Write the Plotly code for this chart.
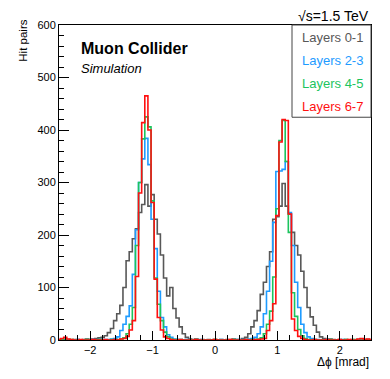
import numpy as np
import plotly.graph_objects as go

# 101 bins of 0.05 mrad, centred on -2.50 ... 2.50
bin_lo, bin_hi, n_bins = -2.525, 2.525, 101

layers_01 = [0, 1, 0, 1, 0, 1, 1, 0, 1, 2,
             1, 2, 3, 4, 5, 8, 14, 22, 37, 50,
             66, 100, 151, 168, 193, 212, 243, 258, 296, 255,
             277, 230, 202, 162, 118, 84, 100, 60, 42, 25,
             12, 5, 2, 1, 2, 0, 1, 0, 1, 0,
             1, 0, 1, 0, 1, 1, 2, 1, 1, 3,
             5, 12, 25, 37, 56, 87, 110, 140, 168, 230,
             235, 255, 298, 255, 240, 205, 180, 162, 131, 100,
             62, 44, 28, 15, 6, 3, 1, 2, 1, 0,
             1, 0, 1, 0, 1, 0, 0, 1, 0, 1,
             0]
layers_23 = [0, 0, 1, 0, 0, 0, 1, 0, 0, 0,
             0, 1, 0, 1, 0, 1, 1, 2, 3, 6,
             18, 30, 45, 65, 125, 210, 300, 345, 384, 334,
             230, 174, 93, 43, 25, 10, 5, 2, 1, 1,
             0, 1, 0, 0, 0, 1, 0, 0, 0, 0,
             0, 0, 1, 0, 0, 0, 0, 1, 0, 1,
             1, 2, 3, 5, 12, 25, 50, 93, 150, 224,
             321, 322, 325, 340, 243, 180, 110, 62, 30, 14,
             6, 3, 1, 1, 0, 0, 1, 0, 0, 0,
             0, 1, 0, 0, 0, 0, 1, 0, 0, 0,
             0]
layers_45 = [0, 1, 0, 0, 1, 0, 0, 0, 0, 1,
             0, 0, 0, 1, 0, 0, 0, 1, 0, 1,
             2, 4, 12, 30, 62, 180, 300, 383, 425, 406,
             265, 118, 68, 37, 15, 6, 2, 1, 0, 1,
             0, 0, 0, 0, 1, 0, 0, 0, 0, 0,
             1, 0, 0, 0, 0, 0, 1, 0, 0, 0,
             1, 0, 1, 1, 2, 4, 12, 30, 55, 120,
             250, 380, 418, 340, 205, 90, 45, 20, 8, 3,
             1, 0, 1, 0, 0, 0, 0, 1, 0, 0,
             0, 0, 1, 0, 0, 1, 0, 0, 0, 1,
             0]
layers_67 = [1, 3, 5, 2, 1, 0, 0, 1, 0, 0,
             0, 1, 0, 0, 0, 1, 0, 0, 1, 0,
             2, 3, 7, 19, 37, 121, 280, 414, 465, 400,
             262, 116, 43, 19, 6, 3, 1, 0, 0, 1,
             0, 0, 0, 0, 1, 0, 0, 0, 0, 0,
             1, 0, 0, 0, 0, 1, 0, 0, 0, 0,
             1, 0, 0, 1, 1, 2, 3, 18, 37, 69,
             237, 377, 420, 418, 240, 40, 18, 7, 3, 1,
             0, 0, 1, 0, 0, 0, 1, 0, 0, 0,
             1, 0, 0, 1, 0, 0, 2, 3, 1, 2,
             1]

series = [
    ("Layers 0-1", layers_01, "#585858"),
    ("Layers 2-3", layers_23, "#1e9bff"),
    ("Layers 4-5", layers_45, "#1cc45e"),
    ("Layers 6-7", layers_67, "#ff1010"),
]

edges = np.linspace(bin_lo, bin_hi, n_bins + 1)
FONT = "Liberation Sans, Arial, sans-serif"

fig = go.Figure()
for name, vals, color in series:
    fig.add_trace(go.Scatter(
        x=edges,
        y=list(vals) + [vals[-1]],
        mode="lines",
        line=dict(color=color, width=1.6, shape="hv"),
        name=name,
        showlegend=False,
        hoverinfo="skip",
    ))

axis_style = dict(
    showline=True, linecolor="black", linewidth=1, mirror=True,
    showgrid=False, zeroline=False, ticks="inside", tickcolor="black",
    tickfont=dict(family=FONT, size=11, color="black"),
)
fig.update_xaxes(range=[-2.5, 2.5], tick0=0, dtick=1, ticklen=9,
                 minor=dict(dtick=0.2, ticklen=5, ticks="inside", tickcolor="black"),
                 **axis_style)
fig.update_yaxes(range=[0, 600], tick0=0, dtick=100, ticklen=10,
                 minor=dict(dtick=20, ticklen=5, ticks="inside", tickcolor="black"),
                 **axis_style)

# frame spans x 59..371, y 19..340 on the page
def px(x):
    return (x - 59) / 312

def py(y):
    return (340 - y) / 321

notes = [
    dict(x=px(79), y=py(43), text="<b>Muon Collider</b>", xanchor="left", size=16, color="black"),
    dict(x=px(79), y=py(63), text="<i>Simulation</i>", xanchor="left", size=13, color="black"),
    dict(x=1.0, y=py(10), text="√s=1.5 TeV", xanchor="right", size=14, color="black"),
    dict(x=1.0, y=py(362), text="Δϕ [mrad]", xanchor="right", size=12, color="black"),
]
for (name, _, color), yc in zip(series, [32, 55, 79, 102]):
    notes.append(dict(x=px(300), y=py(yc), text=name, xanchor="left", size=13, color=color))

for n in notes:
    fig.add_annotation(x=n["x"], y=n["y"], xref="paper", yref="paper", text=n["text"],
                       showarrow=False, xanchor=n["xanchor"], yanchor="middle",
                       font=dict(family=FONT, size=n["size"], color=n["color"]))

fig.add_annotation(x=px(23), y=py(35), xref="paper", yref="paper", text="Hit pairs",
                   showarrow=False, textangle=-90, xanchor="center", yanchor="middle",
                   font=dict(family=FONT, size=11.5, color="black"))

# legend frame
fig.add_shape(type="rect", xref="paper", yref="paper", x0=px(292), x1=1.0,
              y0=py(113), y1=1.0, fillcolor="white", line=dict(color="#444444", width=1),
              layer="above")

# the page body adds an 8px offset, so the figure is 382x371
fig.update_layout(
    width=382, height=371,
    margin=dict(l=51, r=19, t=11, b=39),
    paper_bgcolor="white", plot_bgcolor="white",
    font=dict(family=FONT),
)

fig.write_html("out.html", config={"displayModeBar": False})
